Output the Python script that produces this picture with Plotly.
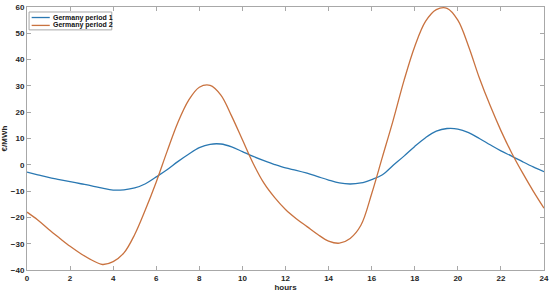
import plotly.graph_objects as go

# hours of the day (half-hour steps)
hours = [i * 0.5 for i in range(49)]

period1 = [-2.8, -3.8, -4.8, -5.6, -6.4, -7.2, -8.0, -8.9, -9.6, -9.5,
           -8.8, -7.2, -4.6, -1.9, 1.2, 4.0, 6.5, 7.8, 7.9, 6.8,
           5.0, 3.2, 1.6, 0.1, -1.2, -2.1, -3.2, -4.5, -5.8, -6.9,
           -7.3, -6.9, -5.6, -3.8, -0.2, 3.3, 7.0, 10.3, 12.8, 13.8,
           13.6, 12.2, 10.0, 7.6, 5.3, 3.3, 1.2, -0.8, -2.6]

period2 = [-18.0, -21.0, -24.5, -27.8, -31.0, -33.8, -36.2, -37.9, -36.8, -33.5,
           -26.5, -17.0, -6.5, 5.0, 16.0, 24.5, 29.5, 30.2, 26.5, 18.5,
           9.5, 0.5, -7.0, -12.5, -17.0, -20.5, -23.5, -26.5, -29.0, -29.8,
           -28.0, -23.0, -11.0, 3.0, 17.0, 32.0, 45.0, 54.5, 59.0, 59.5,
           55.0, 45.0, 33.0, 22.5, 13.0, 4.5, -3.0, -10.0, -16.5]

names = ['Germany period 1', 'Germany period 2']
colors = ['#2A78B2', '#C9723F']

fig = go.Figure()
for name, vals, col in zip(names, [period1, period2], colors):
    fig.add_trace(go.Scatter(x=hours, y=vals, name=name, mode='lines',
                             line=dict(color=col, width=1.3, shape='spline')))

label_font = dict(size=8, color='#262626', weight='bold')
axis_style = dict(showline=True, mirror='allticks', linecolor='#a8a8a8', linewidth=1,
                  ticks='inside', ticklen=4, tickcolor='#a8a8a8', showgrid=False,
                  zeroline=False, automargin=False, tickfont=label_font)

fig.update_xaxes(range=[0, 24], dtick=2, tick0=0,
                 title=dict(text='hours', font=label_font, standoff=0),
                 **axis_style)
fig.update_yaxes(range=[-40, 60], dtick=10, tick0=0,
                 title=dict(text='€/MWh', font=label_font, standoff=2),
                 **axis_style)

# compact MATLAB-like legend box in the upper left corner
fig.add_shape(type='rect', xref='paper', yref='paper', x0=0.004, x1=0.164,
              y0=0.913, y1=0.981, line=dict(color='#a8a8a8', width=1),
              fillcolor='white', layer='above')
for i, (name, col) in enumerate(zip(names, colors)):
    ly = 0.960 - i * 0.030
    fig.add_shape(type='line', xref='paper', yref='paper', x0=0.009, x1=0.044,
                  y0=ly, y1=ly, line=dict(color=col, width=1.3), layer='above')
    fig.add_annotation(x=0.046, y=ly, xref='paper', yref='paper', text=name,
                       showarrow=False, xanchor='left', yanchor='middle',
                       font=dict(size=7, color='#111111', weight='bold'))

fig.update_layout(
    width=550, height=295,
    margin=dict(l=27, r=6, t=7, b=25),
    paper_bgcolor='white', plot_bgcolor='white',
    font=dict(family='Liberation Sans, Arial, sans-serif'),
    showlegend=False,
)

# drop the browser's default body margin so the figure sits at the page corner
fig.write_html("out.html", config={'displayModeBar': False},
               post_script="document.body.style.margin='0px';document.body.style.overflow='hidden';")
